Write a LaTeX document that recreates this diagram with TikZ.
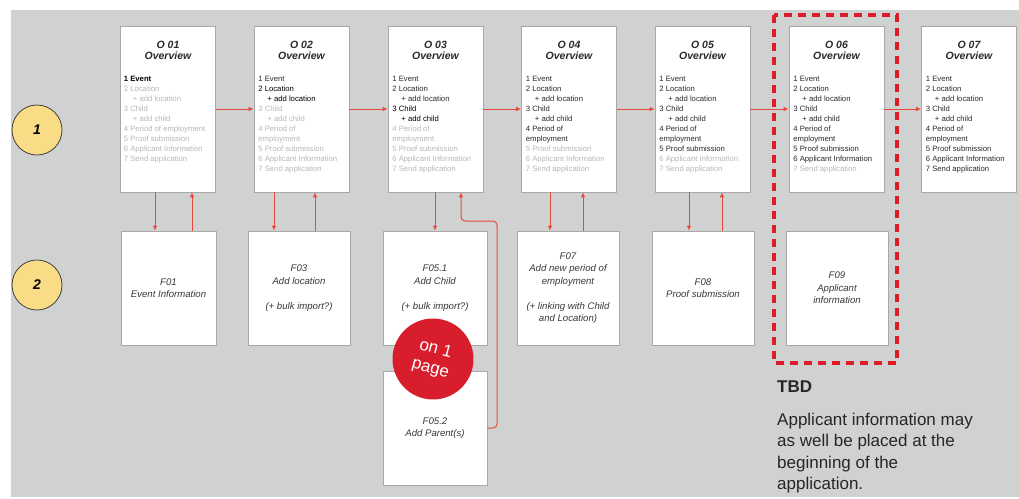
\documentclass[tikz,border=0pt]{standalone}
\usepackage{fontspec}
\setmainfont{Liberation Sans}
\usetikzlibrary{arrows.meta}
\definecolor{bgc}{HTML}{D0D2D2}
\definecolor{boxline}{HTML}{A8A8A8}
\definecolor{arrred}{HTML}{E8483C}
\definecolor{dashred}{HTML}{DD1C2A}
\definecolor{dk}{HTML}{2A2A2A}
\definecolor{lt}{HTML}{B8B8B8}
\definecolor{yel}{HTML}{F9DC85}
\definecolor{redc}{HTML}{D81E2C}
\definecolor{ftxt}{HTML}{383838}
\newcommand{\Dk}[1]{\textcolor{dk}{#1}}
\newcommand{\Lt}[1]{\textcolor{lt}{#1}}
\newcommand{\ind}{\hspace*{9pt}}
\begin{document}
\begin{tikzpicture}[x=1pt,y=-1pt,
  obox/.style={draw=boxline,line width=0.6pt,fill=white,minimum width=95pt,minimum height=166pt,inner sep=0pt},
  fbox/.style={draw=boxline,line width=0.6pt,fill=white,minimum width=102pt,minimum height=114pt,inner sep=0pt,align=center,text=ftxt,font=\itshape\fontsize{9.6}{12.5}\selectfont},
  otitle/.style={anchor=north,inner sep=0pt,align=center,text=dk,font=\bfseries\itshape\fontsize{10.5}{11}\selectfont},
  olist/.style={anchor=north west,inner sep=0pt,align=left,font=\fontsize{7.7}{10}\selectfont},
  rarr/.style={draw=arrred,line width=1pt,-{Latex[length=5pt,width=4.5pt]}},
  numc/.style={circle,draw=black!75,line width=0.8pt,fill=yel,minimum size=50pt,inner sep=0pt,font=\bfseries\itshape\fontsize{14}{14}\selectfont}
]
\useasboundingbox (0,0) rectangle (1019,498);
\fill[bgc] (11,10) rectangle (1019,497);

% dashed TBD frame
\draw[dashred,line width=3.5pt,dash pattern=on 8pt off 6pt] (774,15) rectangle (897,363);

% number circles
\node[numc] (c1) at (37,130) {1};
\node[numc] (c2) at (37,285) {2};

% overview boxes
\node[obox] (o1) at (168,109) {};
\node[obox] (o2) at (301.5,109) {};
\node[obox] (o3) at (435.5,109) {};
\node[obox] (o4) at (569,109) {};
\node[obox] (o5) at (702.5,109) {};
\node[obox] (o6) at (836.5,109) {};
\node[obox] (o7) at (969,109) {};

\node[otitle] (o1t) at ([yshift=-15.5pt]o1.north) {O 01\\Overview};
\node[otitle] (o2t) at ([yshift=-15.5pt]o2.north) {O 02\\Overview};
\node[otitle] (o3t) at ([yshift=-15.5pt]o3.north) {O 03\\Overview};
\node[otitle] (o4t) at ([yshift=-15.5pt]o4.north) {O 04\\Overview};
\node[otitle] (o5t) at ([yshift=-15.5pt]o5.north) {O 05\\Overview};
\node[otitle] (o6t) at ([yshift=-15.5pt]o6.north) {O 06\\Overview};
\node[otitle] (o7t) at ([yshift=-15.5pt]o7.north) {O 07\\Overview};

\node[olist] (o1l) at ([xshift=3.5pt,yshift=-50.5pt]o1.north west)
 {\textcolor{black}{\bfseries 1 Event}\\ \Lt{2 Location}\\ \Lt{\ind+ add location}\\ \Lt{3 Child}\\ \Lt{\ind+ add child}\\
  \Lt{4 Period of employment}\\ \Lt{5 Proof submission}\\ \Lt{6 Applicant Information}\\ \Lt{7 Send application}};
\node[olist] (o2l) at ([xshift=4.5pt,yshift=-50.5pt]o2.north west)
 {\Dk{1 Event}\\ \textcolor{black}{2 Location}\\ \textcolor{black}{\ind+ add location}\\ \Lt{3 Child}\\ \Lt{\ind+ add child}\\
  \Lt{4 Period of}\\ \Lt{employment}\\ \Lt{5 Proof submission}\\ \Lt{6 Applicant Information}\\ \Lt{7 Send application}};
\node[olist] (o3l) at ([xshift=4.5pt,yshift=-50.5pt]o3.north west)
 {\Dk{1 Event}\\ \Dk{2 Location}\\ \Dk{\ind+ add location}\\ \textcolor{black}{3 Child}\\ \textcolor{black}{\ind+ add child}\\
  \Lt{4 Period of}\\ \Lt{employment}\\ \Lt{5 Proof submission}\\ \Lt{6 Applicant Information}\\ \Lt{7 Send application}};
\node[olist] (o4l) at ([xshift=4.5pt,yshift=-50.5pt]o4.north west)
 {\Dk{1 Event}\\ \Dk{2 Location}\\ \Dk{\ind+ add location}\\ \Dk{3 Child}\\ \Dk{\ind+ add child}\\
  \Dk{4 Period of}\\ \Dk{employment}\\ \Lt{5 Proof submission}\\ \Lt{6 Applicant Information}\\ \Lt{7 Send application}};
\node[olist] (o5l) at ([xshift=4.5pt,yshift=-50.5pt]o5.north west)
 {\Dk{1 Event}\\ \Dk{2 Location}\\ \Dk{\ind+ add location}\\ \Dk{3 Child}\\ \Dk{\ind+ add child}\\
  \Dk{4 Period of}\\ \Dk{employment}\\ \Dk{5 Proof submission}\\ \Lt{6 Applicant Information}\\ \Lt{7 Send application}};
\node[olist] (o6l) at ([xshift=4.5pt,yshift=-50.5pt]o6.north west)
 {\Dk{1 Event}\\ \Dk{2 Location}\\ \Dk{\ind+ add location}\\ \Dk{3 Child}\\ \Dk{\ind+ add child}\\
  \Dk{4 Period of}\\ \Dk{employment}\\ \Dk{5 Proof submission}\\ \Dk{6 Applicant Information}\\ \Lt{7 Send application}};
\node[olist] (o7l) at ([xshift=4.5pt,yshift=-50.5pt]o7.north west)
 {\Dk{1 Event}\\ \Dk{2 Location}\\ \Dk{\ind+ add location}\\ \Dk{3 Child}\\ \Dk{\ind+ add child}\\
  \Dk{4 Period of}\\ \Dk{employment}\\ \Dk{5 Proof submission}\\ \Dk{6 Applicant Information}\\ \Dk{7 Send application}};

% form boxes
\node[fbox,minimum width=95pt] (f1) at (168.5,288) {F01\\Event Information};
\node[fbox] (f3) at (299,288) {F03\\Add location\\[12.5pt](+ bulk import?)};
\node[fbox,minimum width=104pt] (f51) at (435,288) {F05.1\\Add Child\\[12.5pt](+ bulk import?)};
\node[fbox,minimum width=104pt] (f52) at (435,428) {F05.2\\Add Parent(s)};
\node[fbox] (f7) at (568,288) {F07\\Add new period of\\employment\\[12.5pt](+ linking with Child\\and Location)};
\node[fbox] (f8) at (703,288) {F08\\Proof submission};
\node[fbox] (f9) at (837,288) {F09\\Applicant\\information};

% horizontal flow
\draw[rarr] (o1.east) -- (o2.west);
\draw[rarr] (o2.east) -- (o3.west);
\draw[rarr] (o3.east) -- (o4.west);
\draw[rarr] (o4.east) -- (o5.west);
\draw[rarr] (o5.east) -- (o6.west);
\draw[rarr] (o6.east) -- (o7.west);

% vertical links
\coordinate (d1) at ([xshift=-13pt]o1.south);
\coordinate (u1) at ([xshift=24pt]o1.south);
\coordinate (d2) at ([xshift=-27.5pt]o2.south);
\coordinate (u2) at ([xshift=13.5pt]o2.south);
\coordinate (d3) at ([xshift=-0.5pt]o3.south);
\coordinate (u3) at ([xshift=25.5pt]o3.south);
\coordinate (d4) at ([xshift=-19pt]o4.south);
\coordinate (u4) at ([xshift=14pt]o4.south);
\coordinate (d5) at ([xshift=-13.5pt]o5.south);
\coordinate (u5) at ([xshift=19.5pt]o5.south);
\draw[rarr] (d1) -- (d1 |- f1.north);
\draw[rarr] (u1 |- f1.north) -- (u1);
\draw[rarr] (d2) -- (d2 |- f3.north);
\draw[rarr] (u2 |- f3.north) -- (u2);
\draw[rarr] (d3) -- (d3 |- f51.north);
\draw[rarr] (d4) -- (d4 |- f7.north);
\draw[rarr] (u4 |- f7.north) -- (u4);
\draw[rarr] (d5) -- (d5 |- f8.north);
\draw[rarr] (u5 |- f8.north) -- (u5);
\draw[rarr,rounded corners=4pt] (f52.east) -| (497,221) -| (u3);

% on 1 page badge
\node[circle,fill=redc,minimum size=81pt,inner sep=0pt,rotate=-15,text=white,align=center,
      font=\fontsize{17}{20}\selectfont] (pg) at (433,359) {on 1\\page};

% TBD note
\node[anchor=base west,inner sep=0pt,text=black!85,font=\bfseries\fontsize{17}{22}\selectfont] (tbd) at (777,392) {TBD};
\node[anchor=north west,inner sep=0pt,align=left,text=black!85,font=\fontsize{17}{21.5}\selectfont] (note) at (777,412.5)
 {Applicant information may\\as well be placed at the\\beginning of the\\application.};
\end{tikzpicture}
\end{document}
